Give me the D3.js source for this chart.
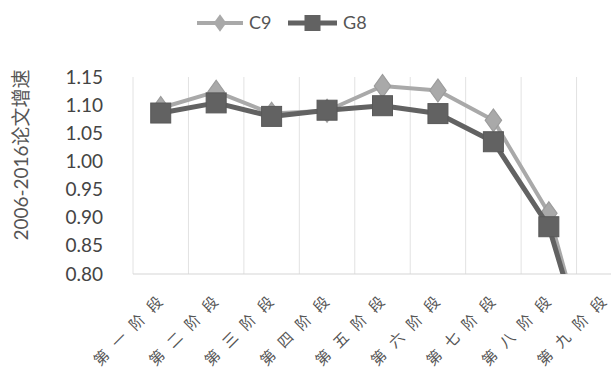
<!DOCTYPE html>
<html>
<head>
<meta charset="utf-8">
<script src="https://cdn.jsdelivr.net/npm/d3@7"></script>
<style>
  html, body { margin: 0; padding: 0; background: #fff; }
  svg { display: block; }
</style>
</head>
<body>
<svg id="chart" width="611" height="372"></svg>
<script>
// Stages and growth rates of paper output (2006-2016)
const categories = ["第一阶段", "第二阶段", "第三阶段", "第四阶段", "第五阶段", "第六阶段", "第七阶段", "第八阶段", "第九阶段"];
const seriesNames = ["C9", "G8"];
const c9Values = [1.095, 1.124, 1.085, 1.090, 1.134, 1.126, 1.073, 0.908, 0.55];
const g8Values = [1.086, 1.104, 1.080, 1.091, 1.099, 1.085, 1.035, 0.884, 0.555];
const yTicks = [0.80, 0.85, 0.90, 0.95, 1.00, 1.05, 1.10, 1.15];
const yTitle = "2006-2016论文增速";

const svg = d3.select("#chart");
const plot = { left: 133, right: 632, top: 77, bottom: 274 };
const font = "Lato, 'Noto Sans CJK SC', sans-serif";
const colors = { C9: "#a9a9a9", G8: "#626262" };

const x = d3.scaleBand().domain(categories).range([plot.left, plot.right]);
const y = d3.scaleLinear().domain([0.80, 1.15]).range([plot.bottom, plot.top]);
const cx = c => x(c) + x.bandwidth() / 2;

// vertical gridlines at category boundaries
const bounds = categories.map(c => x(c)).concat([plot.right]);
svg.append("g").selectAll("line").data(bounds).join("line")
  .attr("x1", d => d).attr("x2", d => d)
  .attr("y1", plot.top).attr("y2", plot.bottom)
  .attr("stroke", "#e2e2e2").attr("stroke-width", 1);

// baseline
svg.append("line")
  .attr("x1", plot.left).attr("x2", plot.right)
  .attr("y1", plot.bottom).attr("y2", plot.bottom)
  .attr("stroke", "#d6d6d6").attr("stroke-width", 1.2);

// y axis labels
const yAxis = d3.axisLeft(y).tickValues(yTicks).tickFormat(d3.format(".2f")).tickSize(0).tickPadding(0);
const yg = svg.append("g").attr("transform", `translate(${plot.left - 30},0)`).call(yAxis);
yg.select(".domain").remove();
yg.selectAll("text")
  .attr("font-family", font).attr("font-size", 19).attr("fill", "#444");

// y title
svg.append("text")
  .attr("transform", `translate(28,155) rotate(-90)`)
  .attr("text-anchor", "middle")
  .attr("font-family", font).attr("font-size", 19).attr("fill", "#555")
  .text(yTitle);

// x labels, rotated 45 degrees with spaced characters
const charSize = 15, advance = 25;
const xl = svg.append("g").selectAll("g").data(categories).join("g")
  .attr("transform", c => `translate(${cx(c) + 3},303) rotate(-45)`);
xl.append("text")
  .attr("font-family", "'Noto Sans CJK SC', sans-serif")
  .attr("font-size", charSize).attr("fill", "#555")
  .selectAll("tspan").data(c => Array.from(c)).join("tspan")
  .attr("x", (ch, k) => -charSize - (3 - k) * advance)
  .attr("y", 0)
  .text(ch => ch);

// clip lines at the baseline
svg.append("clipPath").attr("id", "plotClip")
  .append("rect").attr("x", 0).attr("y", 0).attr("width", 700).attr("height", plot.bottom);

const line = d3.line().x((d, i) => cx(categories[i])).y(d => y(d));
const series = [
  { name: "C9", values: c9Values, width: 4 },
  { name: "G8", values: g8Values, width: 5 }
];

const marks = svg.append("g").attr("clip-path", "url(#plotClip)");
series.forEach(s => {
  marks.append("path").datum(s.values)
    .attr("d", line).attr("fill", "none")
    .attr("stroke", colors[s.name]).attr("stroke-width", s.width)
    .attr("stroke-linejoin", "round");
  const pts = s.values.map((v, i) => ({ v, i })).filter(p => p.v >= 0.80);
  if (s.name === "C9") {
    marks.append("g").selectAll("path").data(pts).join("path")
      .attr("d", d3.symbol(d3.symbolDiamond, 150)())
      .attr("transform", p => `translate(${cx(categories[p.i])},${y(p.v)}) scale(1.25,1)`)
      .attr("fill", colors.C9).attr("stroke", "#9c9c9c").attr("stroke-width", 1);
  } else {
    marks.append("g").selectAll("rect").data(pts).join("rect")
      .attr("x", p => cx(categories[p.i]) - 10)
      .attr("y", p => y(p.v) - 10)
      .attr("width", 20).attr("height", 20)
      .attr("fill", colors.G8).attr("stroke", "#595959").attr("stroke-width", 1);
  }
});

// legend
const legend = svg.append("g").attr("transform", "translate(197,23)");
const legendItems = [
  { name: seriesNames[0], x0: 0, w: 46 },
  { name: seriesNames[1], x0: 91, w: 49 }
];
legendItems.forEach(it => {
  const g = legend.append("g").attr("transform", `translate(${it.x0},0)`);
  g.append("line").attr("x1", 0).attr("x2", it.w).attr("y1", 0).attr("y2", 0)
    .attr("stroke", colors[it.name]).attr("stroke-width", it.name === "C9" ? 4 : 5);
  if (it.name === "C9") {
    g.append("path").attr("d", d3.symbol(d3.symbolDiamond, 90)())
      .attr("transform", `translate(${it.w / 2},0) scale(1.25,1)`)
      .attr("fill", colors.C9);
  } else {
    g.append("rect").attr("x", it.w / 2 - 8).attr("y", -8).attr("width", 16).attr("height", 16)
      .attr("fill", colors.G8);
  }
  g.append("text").attr("x", it.w + 6).attr("y", 6)
    .attr("font-family", font).attr("font-size", 18).attr("fill", "#555")
    .text(it.name);
});
</script>
</body>
</html>
